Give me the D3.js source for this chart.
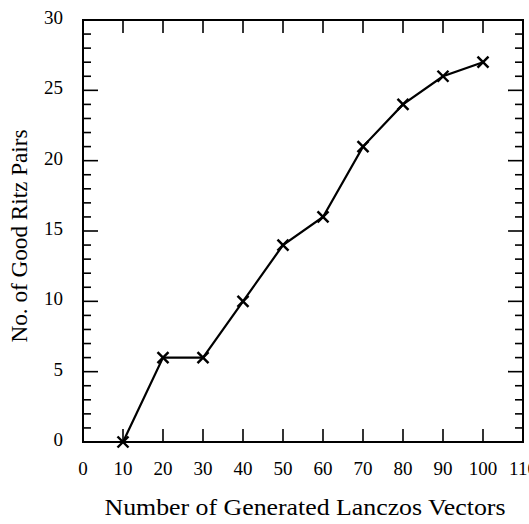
<!DOCTYPE html>
<html><head><meta charset="utf-8">
<script src="https://cdn.jsdelivr.net/npm/d3@7"></script>
<style>html,body{margin:0;padding:0;background:#fff;overflow:hidden}svg{display:block}</style>
</head><body>
<script>
const vectors = [10, 20, 30, 40, 50, 60, 70, 80, 90, 100];
const goodPairs = [0, 6, 6, 10, 14, 16, 21, 24, 26, 27];
const xTicks = [0, 10, 20, 30, 40, 50, 60, 70, 80, 90, 100, 110];
const yTicks = [0, 5, 10, 15, 20, 25, 30];
const yMinor = d3.range(0, 31, 1);

const W = 529, H = 524;
const L = 83, R = 523, T = 20, B = 442;
const svg = d3.select("body").append("svg").attr("width", W).attr("height", H);
const font = "'Liberation Serif','Times New Roman',serif";

const x = d3.scaleLinear().domain([0, 110]).range([L, R]);
const y = d3.scaleLinear().domain([0, 30]).range([B, T]);

// frame
svg.append("rect").attr("x", L).attr("y", T).attr("width", R - L).attr("height", B - T)
  .attr("fill", "none").attr("stroke", "#000").attr("stroke-width", 2);

// y ticks left/right
const yt = svg.append("g").attr("stroke", "#000").attr("stroke-width", 1.6);
yMinor.filter(v => v > 0 && v < 30).forEach(v => {
  const len = v % 5 === 0 ? 15 : 8;
  yt.append("line").attr("x1", L).attr("x2", L + len).attr("y1", y(v)).attr("y2", y(v));
  yt.append("line").attr("x1", R).attr("x2", R - len).attr("y1", y(v)).attr("y2", y(v));
});
// x ticks top/bottom
xTicks.filter(v => v > 0 && v < 110).forEach(v => {
  yt.append("line").attr("x1", x(v)).attr("x2", x(v)).attr("y1", B).attr("y2", B - 13);
  yt.append("line").attr("x1", x(v)).attr("x2", x(v)).attr("y1", T).attr("y2", T + 13);
});

// tick labels
svg.append("g").selectAll("text").data(yTicks).join("text")
  .attr("x", 63).attr("y", d => y(d) + 4).attr("text-anchor", "end")
  .attr("font-family", font).attr("font-size", 19).text(d => d);
svg.append("g").selectAll("text").data(xTicks).join("text")
  .attr("x", d => x(d)).attr("y", 475).attr("text-anchor", "middle")
  .attr("font-family", font).attr("font-size", 19).text(d => d);

// axis titles
svg.append("text").attr("x", 305).attr("y", 515).attr("text-anchor", "middle")
  .attr("font-family", font).attr("font-size", 23)
  .attr("textLength", 401).attr("lengthAdjust", "spacingAndGlyphs")
  .text("Number of Generated Lanczos Vectors");
svg.append("text").attr("transform", "translate(27,236) rotate(-90)").attr("text-anchor", "middle")
  .attr("font-family", font).attr("font-size", 23)
  .attr("textLength", 213).attr("lengthAdjust", "spacingAndGlyphs")
  .text("No. of Good Ritz Pairs");

// line
const pts = vectors.map((v, i) => [v, goodPairs[i]]);
svg.append("path").datum(pts)
  .attr("d", d3.line().x(d => x(d[0])).y(d => y(d[1])))
  .attr("fill", "none").attr("stroke", "#000").attr("stroke-width", 2.2);

// markers (x with spikes)
const s = 5.5;
const mk = svg.append("g").attr("stroke", "#000").attr("stroke-width", 2.4);
pts.forEach(d => {
  const cx = x(d[0]), cy = y(d[1]);
  mk.append("line").attr("x1", cx - s).attr("y1", cy - s).attr("x2", cx + s).attr("y2", cy + s);
  mk.append("line").attr("x1", cx - s).attr("y1", cy + s).attr("x2", cx + s).attr("y2", cy - s);
});
</script>
</body></html>
